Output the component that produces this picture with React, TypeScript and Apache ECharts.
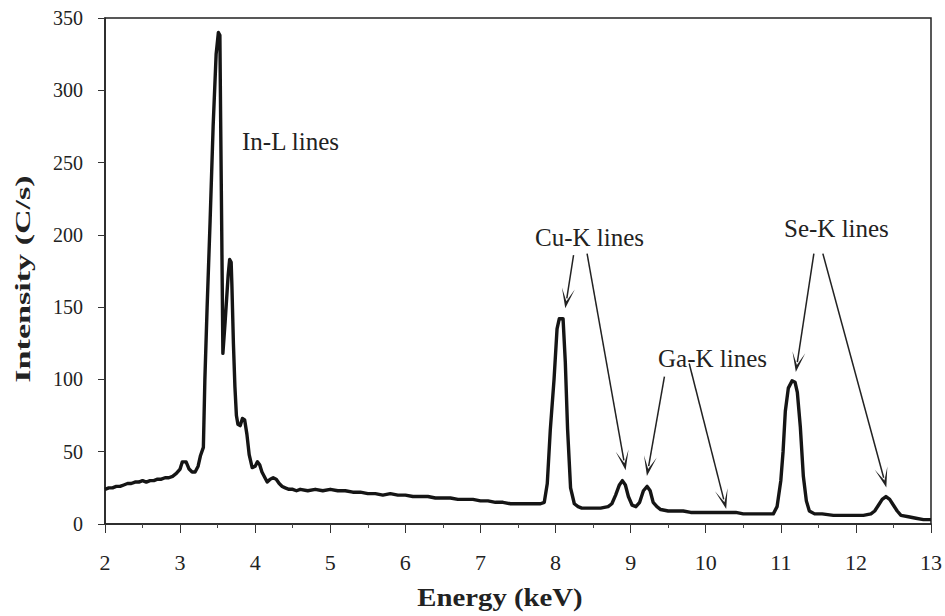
import React, { useEffect, useRef } from "react";
import * as echarts from "echarts";

// Energy (keV) and intensity (C/s)
const energy = [
  2.0, 2.05, 2.1, 2.15, 2.2, 2.25, 2.3, 2.35, 2.4, 2.45, 2.5, 2.55, 2.6, 2.65, 2.7, 2.75, 2.8, 2.85, 2.9, 2.95,
  3.0, 3.03, 3.08, 3.12, 3.16, 3.2, 3.24, 3.27, 3.31, 3.33, 3.36, 3.4, 3.44, 3.48, 3.51, 3.53, 3.54, 3.555, 3.57,
  3.6, 3.64, 3.66, 3.68, 3.69, 3.71, 3.73, 3.75, 3.77, 3.8, 3.83, 3.86, 3.89, 3.92, 3.96, 4.0, 4.03, 4.06, 4.09,
  4.13, 4.16, 4.2, 4.24, 4.28, 4.32, 4.36, 4.4, 4.45, 4.5, 4.55, 4.6, 4.7, 4.8, 4.9, 5.0, 5.1, 5.2, 5.3, 5.4, 5.5,
  5.6, 5.7, 5.8, 5.9, 6.0, 6.1, 6.2, 6.3, 6.4, 6.5, 6.6, 6.7, 6.8, 6.9, 7.0, 7.1, 7.2, 7.3, 7.4, 7.5, 7.6, 7.7,
  7.8, 7.85, 7.89, 7.93, 7.98, 8.02, 8.05, 8.1, 8.13, 8.16, 8.2, 8.25, 8.3, 8.35, 8.4, 8.5, 8.6, 8.7, 8.75, 8.8,
  8.85, 8.89, 8.93, 8.97, 9.02, 9.07, 9.12, 9.17, 9.22, 9.26, 9.3, 9.35, 9.4, 9.5, 9.6, 9.7, 9.8, 9.9, 10.0, 10.1,
  10.2, 10.3, 10.4, 10.5, 10.6, 10.7, 10.8, 10.9, 10.95, 11.0, 11.03, 11.06, 11.1, 11.15, 11.19, 11.22, 11.26,
  11.3, 11.34, 11.38, 11.45, 11.55, 11.7, 11.8, 11.9, 12.0, 12.1, 12.2, 12.25, 12.3, 12.35, 12.4, 12.45, 12.5,
  12.55, 12.6, 12.7, 12.8, 12.9, 13.0,
];
const intensity = [
  24, 25, 25, 26, 26, 27, 28, 28, 29, 29, 30, 29, 30, 30, 31, 31, 32, 32, 33, 35,
  38, 43, 43, 38, 36, 36, 40, 47, 53, 100, 150, 210, 275, 325, 340, 338, 280, 200, 118,
  140, 172, 183, 181, 165, 125, 95, 75, 69, 68, 73, 72, 62, 48, 39, 40, 43, 41, 36,
  32, 29, 31, 32, 31, 28, 26, 25, 24, 24, 23, 24, 23, 24, 23, 24, 23, 23, 22, 22, 21,
  21, 20, 21, 20, 20, 19, 19, 19, 18, 18, 18, 17, 17, 17, 16, 16, 15, 15, 14, 14, 14, 14,
  14, 15, 28, 65, 100, 135, 142, 142, 112, 66, 25, 14, 12, 11, 11, 11, 11, 12, 14, 20,
  27, 30, 27, 19, 13, 12, 15, 23, 26, 23, 15, 12, 10, 9, 9, 9, 8, 8, 8, 8,
  8, 8, 8, 7, 7, 7, 7, 7, 12, 30, 50, 78, 94, 99, 98, 91, 67,
  33, 16, 9, 7, 7, 6, 6, 6, 6, 6, 7, 9, 13, 17, 19, 17, 13,
  9, 6, 5, 4, 3, 3,
];

// Annotation arrows: start and tip, in (keV, C/s)
const arrowStart = [[8.24, 186], [8.42, 187], [9.45, 102], [9.78, 111], [11.44, 187], [11.56, 187]];
const arrowEnd = [[8.15, 156], [8.91, 44], [9.24, 40], [10.24, 17], [11.22, 112], [12.37, 32]];

const annotationLabels = ["In-L lines", "Cu-K lines", "Ga-K lines", "Se-K lines"];
const xTitle = "Energy (keV)";
const yTitle = "Intensity (C/s)";

const FONT = "Liberation Serif";

export default function App() {
  const ref = useRef<HTMLDivElement>(null);

  useEffect(() => {
    if (!ref.current) return;
    const chart = echarts.init(ref.current, undefined, { renderer: "svg" });
    const data = energy.map((e, i) => [e, intensity[i]]);
    const labelPos = [
      [242, 141],
      [535, 237],
      [658, 358],
      [784, 228],
    ];
    chart.setOption({
      animation: false,
      backgroundColor: "#ffffff",
      textStyle: { fontFamily: FONT },
      grid: {
        left: 105,
        right: 13,
        top: 18,
        bottom: 92,
        show: true,
        borderColor: "#222",
        borderWidth: 1.5,
        backgroundColor: "transparent",
      },
      xAxis: {
        type: "value",
        min: 2,
        max: 13,
        interval: 1,
        axisLine: { show: true, lineStyle: { color: "#222", width: 1.5 } },
        axisTick: { show: true, inside: false, length: 9, lineStyle: { color: "#333", width: 1 } },
        minorTick: { show: true, splitNumber: 2, length: 4, lineStyle: { color: "#444", width: 1 } },
        splitLine: { show: false },
        axisLabel: { fontFamily: FONT, fontSize: 22, color: "#222", margin: 27 },
      },
      yAxis: {
        type: "value",
        min: 0,
        max: 350,
        interval: 50,
        axisLine: { show: true, lineStyle: { color: "#222", width: 1.5 } },
        axisTick: { show: true, inside: false, length: 7, lineStyle: { color: "#333", width: 1 } },
        splitLine: { show: false },
        axisLabel: { fontFamily: FONT, fontSize: 20, color: "#222", margin: 22 },
      },
      series: [
        {
          type: "line",
          data,
          showSymbol: false,
          symbol: "none",
          lineStyle: { color: "#151515", width: 3.4, join: "round" },
          z: 3,
          markLine: {
            silent: true,
            symbol: ["none", "path://M5,0L10,14L5,5L0,14Z"],
            symbolSize: [13, 20],
            label: { show: false },
            lineStyle: { color: "#222", width: 1.5, type: "solid" },
            data: arrowStart.map((s, i) => [{ coord: s }, { coord: arrowEnd[i] }]),
          },
        },
      ],
      graphic: [
        ...annotationLabels.map((t, i) => ({
          type: "text",
          x: labelPos[i][0],
          y: labelPos[i][1],
          style: {
            text: t,
            fontFamily: FONT,
            fontSize: 25,
            fill: "#222",
            textAlign: "left",
            textVerticalAlign: "middle",
          },
        })),
        {
          type: "text",
          x: 500,
          y: 598,
          scaleX: 1.15,
          style: {
            text: xTitle,
            fontFamily: FONT,
            fontWeight: "bold",
            fontSize: 25,
            fill: "#222",
            textAlign: "center",
            textVerticalAlign: "middle",
          },
        },
        {
          type: "text",
          x: 22,
          y: 279,
          rotation: Math.PI / 2,
          scaleX: 1.55,
          style: {
            text: yTitle,
            fontFamily: FONT,
            fontWeight: "bold",
            fontSize: 22,
            fill: "#222",
            textAlign: "center",
            textVerticalAlign: "middle",
          },
        },
      ],
    });
    return () => chart.dispose();
  }, []);

  return (
    <div
      ref={ref}
      style={{ position: "fixed", left: 0, top: 0, width: 945, height: 616, background: "#fff" }}
    />
  );
}
